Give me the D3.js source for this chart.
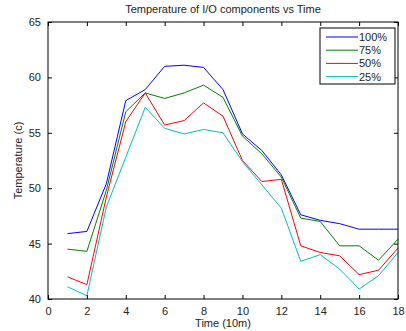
<!DOCTYPE html>
<html>
<head>
<meta charset="utf-8">
<script src="https://cdn.jsdelivr.net/npm/d3@7"></script>
<style>
  body { margin: 0; background: #fff; }
  svg text { font-family: "Liberation Sans", Arial, sans-serif; fill: #222; }
</style>
</head>
<body>
<div id="graph-holder"></div>
<script>
// time steps (x axis, units of 10 minutes)
var times = [1, 2, 3, 4, 5, 6, 7, 8, 9, 10, 11, 12, 13, 14, 15, 16, 17, 18];

// series names (legend)
var seriesNames = ["100%", "75%", "50%", "25%"];

// temperatures
var temp100 = [45.9, 46.1, 50.4, 57.9, 58.9, 61.0, 61.1, 60.9, 58.9, 54.9, 53.4, 51.2, 47.6, 47.1, 46.8, 46.3, 46.3, 46.3];
var temp75 = [44.5, 44.3, 49.8, 56.9, 58.6, 58.1, 58.6, 59.3, 58.2, 54.7, 53.1, 51.0, 47.3, 47.0, 44.8, 44.8, 43.5, 45.4];
var temp50 = [42.0, 41.3, 49.2, 56.0, 58.6, 55.7, 56.1, 57.7, 56.5, 52.5, 50.6, 50.8, 44.8, 44.2, 43.9, 42.2, 42.6, 44.6];
var temp25 = [41.1, 40.3, 48.3, 52.8, 57.3, 55.4, 54.9, 55.3, 55.0, 52.4, 50.3, 48.2, 43.4, 44.0, 42.7, 40.9, 42.1, 44.2];

// tick values
var xTicks = [0, 2, 4, 6, 8, 10, 12, 14, 16, 18];
var yTicks = [40, 45, 50, 55, 60, 65];

var colors = ["#0000ff", "#008000", "#ff0000", "#00bfbf"];

var allSeries = [temp100, temp75, temp50, temp25];

var margin = { top: 22, right: 8, bottom: 32, left: 48 },
  fullWidth = 406,
  fullHeight = 331,
  width = fullWidth - margin.left - margin.right,
  height = fullHeight - margin.top - margin.bottom;

var svg = d3
  .select("#graph-holder")
  .append("svg")
  .attr("width", fullWidth)
  .attr("height", fullHeight)
  .append("g")
  .attr("transform", "translate(" + margin.left + "," + margin.top + ")");

var x = d3.scaleLinear().domain([0, 18]).range([0, width]);
var y = d3.scaleLinear().domain([40, 65]).range([height, 0]);

// lines
var valueline = d3
  .line()
  .x(function (d, i) {
    return x(times[i]);
  })
  .y(function (d) {
    return y(d);
  });

allSeries.forEach(function (s, i) {
  svg
    .append("path")
    .datum(s)
    .attr("d", valueline)
    .attr("fill", "none")
    .attr("stroke", colors[i])
    .attr("stroke-width", 1);
});

// axes, MATLAB style: ticks pointing inward and mirrored on top / right
function styleAxis(g) {
  g.select(".domain").remove();
  g.selectAll("line").attr("stroke", "#000");
  g.selectAll("text").style("font-size", "11px").attr("fill", "#222");
}

svg
  .append("g")
  .attr("transform", "translate(0," + height + ")")
  .call(d3.axisBottom(x).tickValues(xTicks).tickSizeInner(-4).tickSizeOuter(0).tickPadding(8))
  .call(styleAxis);

svg
  .append("g")
  .call(d3.axisTop(x).tickValues(xTicks).tickSizeInner(-4).tickSizeOuter(0).tickFormat(""))
  .call(styleAxis);

svg
  .append("g")
  .call(d3.axisLeft(y).tickValues(yTicks).tickSizeInner(-4).tickSizeOuter(0).tickPadding(7))
  .call(styleAxis);

svg
  .append("g")
  .attr("transform", "translate(" + width + ",0)")
  .call(d3.axisRight(y).tickValues(yTicks).tickSizeInner(-4).tickSizeOuter(0).tickFormat(""))
  .call(styleAxis);

// box round the plot
svg
  .append("rect")
  .attr("x", 0)
  .attr("y", 0)
  .attr("width", width)
  .attr("height", height)
  .attr("fill", "none")
  .attr("stroke", "#000")
  .attr("stroke-width", 1);

// title and labels
svg
  .append("text")
  .text("Temperature of I/O components vs Time")
  .attr("x", width / 2)
  .attr("y", -9)
  .attr("text-anchor", "middle")
  .style("font-size", "11px");

svg
  .append("text")
  .text("Time (10m)")
  .attr("x", width / 2)
  .attr("y", height + 28)
  .attr("text-anchor", "middle")
  .style("font-size", "11px");

svg
  .append("text")
  .text("Temperature (c)")
  .attr("transform", "translate(-26," + height / 2 + ") rotate(-90)")
  .attr("text-anchor", "middle")
  .style("font-size", "11px");

// legend
var legend = svg.append("g").attr("transform", "translate(" + (x(18) - 78) + ",6)");

legend
  .append("rect")
  .attr("x", 0)
  .attr("y", 0)
  .attr("width", 75)
  .attr("height", 56)
  .attr("fill", "#fff")
  .attr("stroke", "#000")
  .attr("stroke-width", 1);

seriesNames.forEach(function (name, i) {
  var ly = 9 + i * 13.2;
  legend
    .append("line")
    .attr("x1", 6)
    .attr("x2", 38)
    .attr("y1", ly)
    .attr("y2", ly)
    .attr("stroke", colors[i])
    .attr("stroke-width", 1);
  legend
    .append("text")
    .text(name)
    .attr("x", 39)
    .attr("y", ly + 4)
    .style("font-size", "11px");
});
</script>
</body>
</html>
